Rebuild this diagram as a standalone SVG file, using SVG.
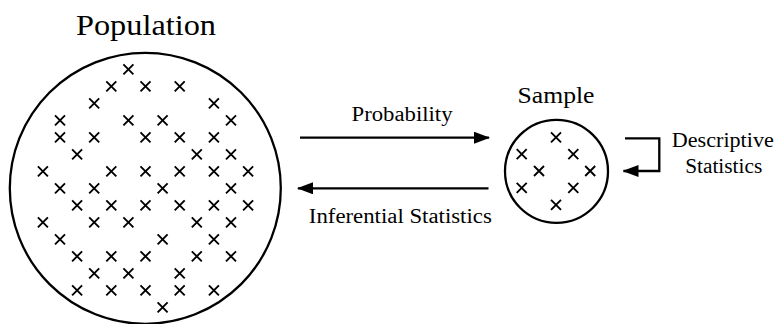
<svg xmlns="http://www.w3.org/2000/svg" xmlns:xlink="http://www.w3.org/1999/xlink" width="775" height="324" viewBox="0 0 775 324">
<style>
text{font-family:'Liberation Serif',serif;fill:#000;text-anchor:middle}
.c{fill:none;stroke:#000;stroke-width:2.3}
.ln{fill:none;stroke:#000;stroke-width:2.3}
.x{fill:none;stroke:#000;stroke-width:1.9}
</style>
<defs>
<path id="x" class="x" d="M-5,-5L5,5M-5,5L5,-5"/>
<marker id="ah" viewBox="0 0 16 12" refX="15" refY="6" markerWidth="16" markerHeight="12" markerUnits="userSpaceOnUse" orient="auto">
<path d="M0,0L16,6L0,12z" fill="#000"/>
</marker>
</defs>
<g id="population">
<circle class="c" cx="145.3" cy="188.3" r="135.5"/>
<text font-family="Liberation Serif" x="146" y="35" font-size="29" textLength="140" lengthAdjust="spacingAndGlyphs">Population</text>
<use xlink:href="#x" x="128.4" y="69.3"/>
<use xlink:href="#x" x="111.3" y="86.3"/><use xlink:href="#x" x="145.5" y="86.3"/><use xlink:href="#x" x="179.7" y="86.3"/>
<use xlink:href="#x" x="94.2" y="103.3"/><use xlink:href="#x" x="213.9" y="103.3"/>
<use xlink:href="#x" x="60" y="120.3"/><use xlink:href="#x" x="128.4" y="120.3"/><use xlink:href="#x" x="162.6" y="120.3"/><use xlink:href="#x" x="231" y="120.3"/>
<use xlink:href="#x" x="60" y="137.3"/><use xlink:href="#x" x="94.2" y="137.3"/><use xlink:href="#x" x="145.5" y="137.3"/><use xlink:href="#x" x="179.7" y="137.3"/><use xlink:href="#x" x="213.9" y="137.3"/>
<use xlink:href="#x" x="77.1" y="154.3"/><use xlink:href="#x" x="196.8" y="154.3"/><use xlink:href="#x" x="231" y="154.3"/>
<use xlink:href="#x" x="42.9" y="171.3"/><use xlink:href="#x" x="111.3" y="171.3"/><use xlink:href="#x" x="145.5" y="171.3"/><use xlink:href="#x" x="179.7" y="171.3"/><use xlink:href="#x" x="213.9" y="171.3"/><use xlink:href="#x" x="248.1" y="171.3"/>
<use xlink:href="#x" x="60" y="188.3"/><use xlink:href="#x" x="94.2" y="188.3"/><use xlink:href="#x" x="162.6" y="188.3"/><use xlink:href="#x" x="231" y="188.3"/>
<use xlink:href="#x" x="77.1" y="205.3"/><use xlink:href="#x" x="111.3" y="205.3"/><use xlink:href="#x" x="145.5" y="205.3"/><use xlink:href="#x" x="179.7" y="205.3"/><use xlink:href="#x" x="213.9" y="205.3"/><use xlink:href="#x" x="248.1" y="205.3"/>
<use xlink:href="#x" x="42.9" y="222.3"/><use xlink:href="#x" x="94.2" y="222.3"/><use xlink:href="#x" x="128.4" y="222.3"/><use xlink:href="#x" x="196.8" y="222.3"/><use xlink:href="#x" x="231" y="222.3"/>
<use xlink:href="#x" x="60" y="239.3"/><use xlink:href="#x" x="162.6" y="239.3"/><use xlink:href="#x" x="213.9" y="239.3"/>
<use xlink:href="#x" x="77.1" y="256.3"/><use xlink:href="#x" x="111.3" y="256.3"/><use xlink:href="#x" x="145.5" y="256.3"/><use xlink:href="#x" x="196.8" y="256.3"/><use xlink:href="#x" x="231" y="256.3"/>
<use xlink:href="#x" x="94.2" y="273.3"/><use xlink:href="#x" x="128.4" y="273.3"/><use xlink:href="#x" x="179.7" y="273.3"/>
<use xlink:href="#x" x="77.1" y="290.3"/><use xlink:href="#x" x="111.3" y="290.3"/><use xlink:href="#x" x="145.5" y="290.3"/><use xlink:href="#x" x="179.7" y="290.3"/><use xlink:href="#x" x="213.9" y="290.3"/>
<use xlink:href="#x" x="162.6" y="307.3"/>
</g>
<g id="sample">
<circle class="c" cx="556.5" cy="171.3" r="51.5"/>
<text font-family="Liberation Serif" x="556" y="102.7" font-size="23" textLength="77" lengthAdjust="spacingAndGlyphs">Sample</text>
<use xlink:href="#x" x="556" y="137.3"/>
<use xlink:href="#x" x="521.7" y="154.2"/><use xlink:href="#x" x="573.3" y="154.2"/>
<use xlink:href="#x" x="539" y="171"/><use xlink:href="#x" x="590.2" y="171"/>
<use xlink:href="#x" x="521.7" y="187.8"/><use xlink:href="#x" x="573.3" y="187.8"/>
<use xlink:href="#x" x="556" y="204.8"/>
</g>
<g id="connectors">
<line class="ln" x1="300" y1="137.7" x2="489" y2="137.7" marker-end="url(#ah)"/>
<text font-family="Liberation Serif" x="402" y="121" font-size="20.5" textLength="101" lengthAdjust="spacingAndGlyphs">Probability</text>
<line class="ln" x1="488.5" y1="188.3" x2="298" y2="188.3" marker-end="url(#ah)"/>
<text font-family="Liberation Serif" x="400.3" y="222.5" font-size="20.5" textLength="183" lengthAdjust="spacingAndGlyphs">Inferential Statistics</text>
<path class="ln" d="M625,138.3H659.3V171H623.5" marker-end="url(#ah)"/>
<text font-family="Liberation Serif" x="722.8" y="146.5" font-size="20.5" textLength="102" lengthAdjust="spacingAndGlyphs">Descriptive</text>
<text font-family="Liberation Serif" x="723.7" y="173.3" font-size="20.5" textLength="77" lengthAdjust="spacingAndGlyphs">Statistics</text>
</g>
</svg>
